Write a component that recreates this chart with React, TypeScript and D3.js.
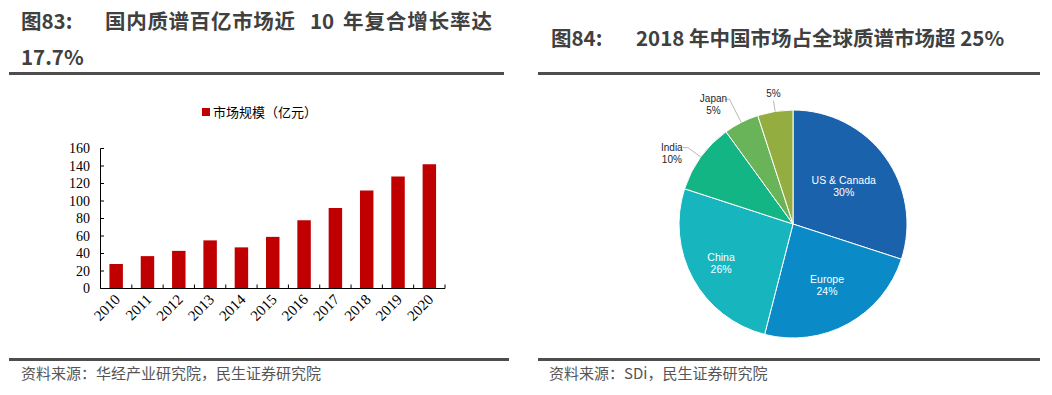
import React from "react";
import * as d3 from "d3";

// 国内质谱市场规模（亿元）
const years = ["2010", "2011", "2012", "2013", "2014", "2015", "2016", "2017", "2018", "2019", "2020"];
const marketSize = [28, 37, 43, 55, 47, 59, 78, 92, 112, 128, 142];
const yTicks = [0, 20, 40, 60, 80, 100, 120, 140, 160];

// 2018 全球质谱市场份额
const regions = ["US & Canada", "Europe", "China", "India", "Japan", ""];
const shares = [30, 24, 26, 10, 5, 5];
const regionColors = ["#1b62ad", "#0b8ac8", "#17b6bf", "#14b584", "#69b359", "#93ad40"];

const TITLE_FONT = "'Noto Sans CJK SC', 'Noto Sans', sans-serif";
const SERIF = "'Liberation Serif', 'DejaVu Serif', serif";
const SANS = "'Liberation Sans', Arial, sans-serif";

const BarChart = () => {
  const x = d3
    .scaleBand()
    .domain(years)
    .range([100.5, 445])
    .paddingInner(0.57)
    .paddingOuter(0.285);
  const y = d3.scaleLinear().domain([0, 160]).range([288.5, 148.5]);
  const step = x.step();

  return (
    <g>
      {/* legend */}
      <rect x={202} y={108} width={8} height={8} fill="#c00000" />
      <text x={213} y={116.5} fontSize={13} fontFamily={TITLE_FONT} fill="#000">
        市场规模（亿元）
      </text>

      {years.map((yr, i) => (
        <rect
          key={yr}
          x={x(yr)}
          y={y(marketSize[i])}
          width={x.bandwidth()}
          height={y(0) - y(marketSize[i])}
          fill="#c00000"
        />
      ))}

      {/* y axis */}
      <line x1={100.5} x2={100.5} y1={y(160)} y2={y(0)} stroke="#000" />
      {yTicks.map((t) => (
        <g key={t}>
          <line x1={100.5} x2={104} y1={y(t)} y2={y(t)} stroke="#000" />
          <text
            x={90}
            y={y(t) + 4.5}
            textAnchor="end"
            fontSize={14}
            fontFamily={SERIF}
            fill="#000"
          >
            {t}
          </text>
        </g>
      ))}

      {/* x axis */}
      <line x1={100.5} x2={445} y1={y(0)} y2={y(0)} stroke="#000" />
      {years.map((yr) => {
        const b = (x(yr) as number) + x.bandwidth() / 2 + step / 2;
        return <line key={yr} x1={b} x2={b} y1={y(0)} y2={y(0) - 4} stroke="#000" />;
      })}
      {years.map((yr) => {
        const cx = (x(yr) as number) + x.bandwidth() / 2;
        return (
          <text
            key={yr}
            transform={`translate(${cx + 5},${y(0) + 12}) rotate(-45)`}
            textAnchor="end"
            fontSize={15}
            fontFamily={SERIF}
            fill="#000"
          >
            {yr}
          </text>
        );
      })}
    </g>
  );
};

const PieChart = () => {
  const cx = 793;
  const cy = 224;
  const r = 114;
  const arcs = d3.pie<number>().sort(null).value((d) => d)(shares);
  const arcGen = d3.arc<d3.PieArcDatum<number>>().innerRadius(0).outerRadius(r);
  // label radius factor for inner labels
  const innerR = [0.55, 0.62, 0.72];

  return (
    <g transform={`translate(${cx},${cy})`}>
      {arcs.map((a, i) => (
        <path key={i} d={arcGen(a) as string} fill={regionColors[i]} stroke="#fff" strokeWidth={1} />
      ))}
      {arcs.map((a, i) => {
        const mid = (a.startAngle + a.endAngle) / 2;
        const sx = Math.sin(mid);
        const sy = -Math.cos(mid);
        const pct = `${shares[i]}%`;
        if (i < 3) {
          const rr = r * innerR[i];
          return (
            <text
              key={i}
              x={sx * rr}
              y={sy * rr}
              textAnchor="middle"
              fontSize={10.5}
              fontFamily={SANS}
              fill="#fff"
            >
              <tspan x={sx * rr} dy={-3}>{regions[i]}</tspan>
              <tspan x={sx * rr} dy={12}>{pct}</tspan>
            </text>
          );
        }
        const ext = i === 3 ? 16 : i === 4 ? 26 : 11;
        const ax = sx * r;
        const ay = sy * r;
        const bx = sx * (r + ext);
        const by = sy * (r + ext);
        if (regions[i] === "") {
          return (
            <g key={i}>
              <line x1={ax} y1={ay} x2={bx} y2={by} stroke="#a6a6a6" strokeWidth={0.8} />
              <text x={bx} y={by - 4} textAnchor="middle" fontSize={10} fontFamily={SANS} fill="#262626">
                {pct}
              </text>
            </g>
          );
        }
        const ex = bx - 5;
        const tx = ex - 11;
        return (
          <g key={i}>
            <polyline
              points={`${ax},${ay} ${bx},${by} ${ex},${by}`}
              fill="none"
              stroke="#a6a6a6"
              strokeWidth={0.8}
            />
            <text textAnchor="middle" fontSize={10} fontFamily={SANS} fill="#262626">
              <tspan x={tx} y={by + 3}>{regions[i]}</tspan>
              <tspan x={tx} y={by + 15}>{pct}</tspan>
            </text>
          </g>
        );
      })}
    </g>
  );
};

export default function App() {
  const titleColor = "#404040";
  return (
    <svg
      width={1052}
      height={395}
      style={{ position: "absolute", left: 0, top: 0, background: "#fff" }}
    >
      <rect width={1052} height={395} fill="#fff" />

      {/* left title */}
      <g fontFamily={TITLE_FONT} fontWeight="bold" fontSize={20.5} fill={titleColor}>
        <text x={21} y={29}>图83:</text>
        <text x={105} y={29} textLength={190} lengthAdjust="spacing">国内质谱百亿市场近</text>
        <text x={310} y={29}>10</text>
        <text x={343} y={29} textLength={149} lengthAdjust="spacing">年复合增长率达</text>
        <text x={21} y={65}>17.7%</text>
      </g>
      <rect x={9} y={72} width={495} height={3} fill="#4d4d4d" />

      {/* right title */}
      <g fontFamily={TITLE_FONT} fontWeight="bold" fontSize={20.5} fill={titleColor}>
        <text x={551} y={46}>图84:</text>
        <text x={636} y={46}>2018 年中国市场占全球质谱市场超 25%</text>
      </g>
      <rect x={538} y={72} width={502} height={3} fill="#4d4d4d" />

      <BarChart />
      <PieChart />

      {/* sources */}
      <rect x={9} y={358} width={500} height={3} fill="#4d4d4d" />
      <rect x={538} y={358} width={502} height={3} fill="#4d4d4d" />
      <g fontFamily={TITLE_FONT} fontSize={15} fill="#555">
        <text x={21} y={379}>资料来源：华经产业研究院，民生证券研究院</text>
        <text x={549} y={379}>资料来源：SDi，民生证券研究院</text>
      </g>
    </svg>
  );
}
